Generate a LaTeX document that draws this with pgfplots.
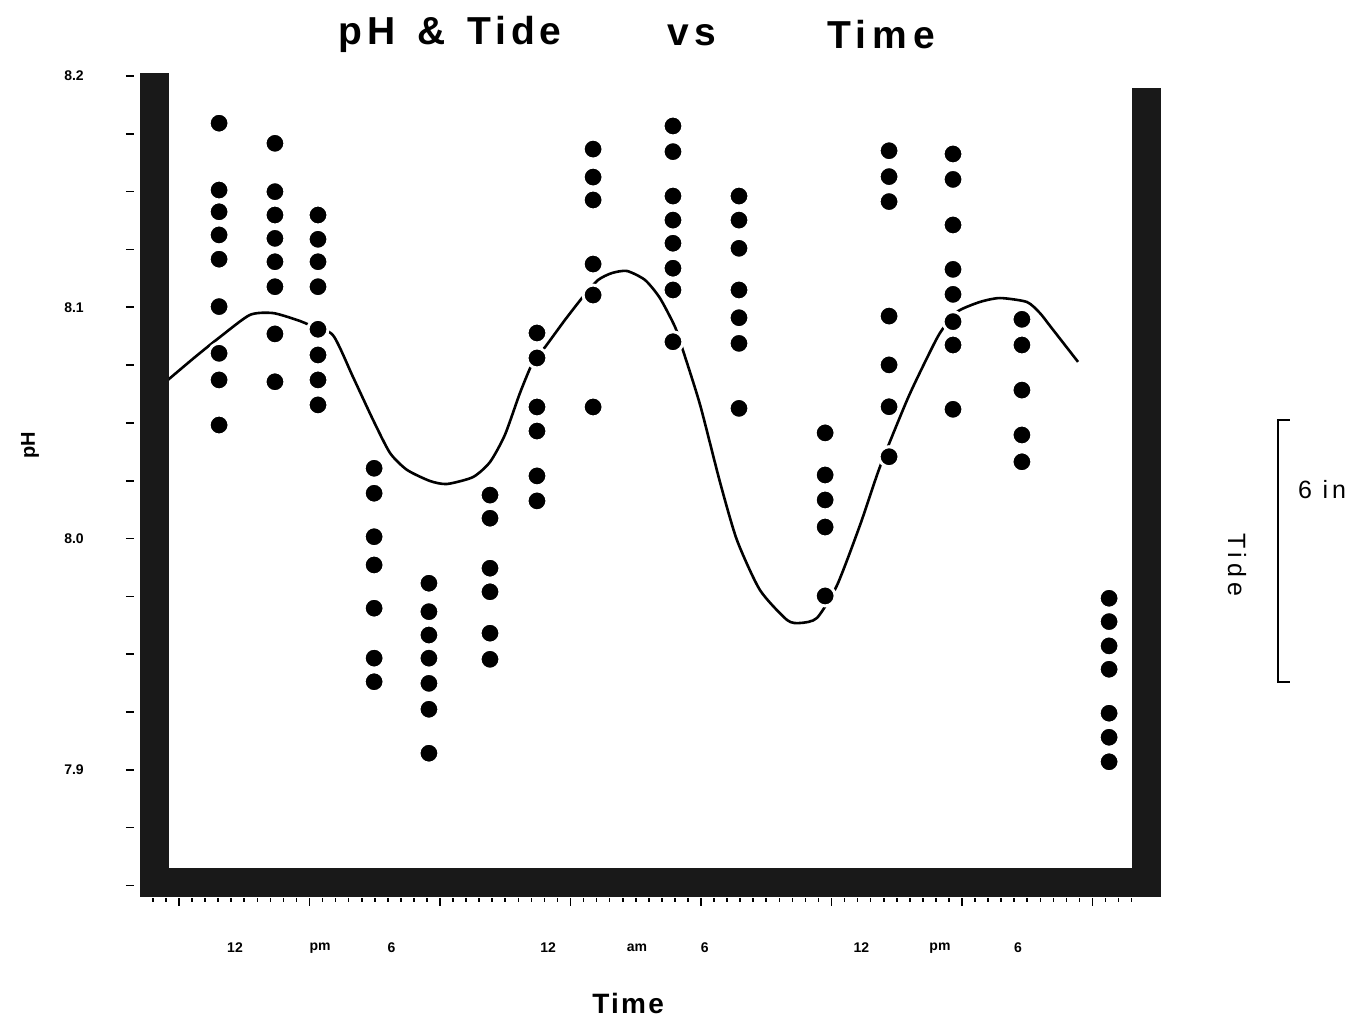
\documentclass[border=0pt]{standalone}
\usepackage{fontspec}
\setmainfont{Liberation Sans}
\usepackage{pgfplots}
\pgfplotsset{compat=1.18}
\usepackage{pgfplotstable}

\pgfplotstableread{
t ph
11.39 8.1796
11.39 8.1507
11.39 8.1413
11.39 8.1313
11.39 8.1208
11.39 8.1003
11.39 8.0801
11.39 8.0686
11.39 8.0491
13.53 8.1709
13.53 8.1500
13.53 8.1399
13.53 8.1298
13.53 8.1197
13.53 8.1089
13.53 8.0885
13.53 8.0678
15.18 8.1399
15.18 8.1294
15.18 8.1197
15.18 8.1089
15.18 8.0905
15.18 8.0794
15.18 8.0686
15.18 8.0578
17.33 8.0304
17.33 8.0196
17.33 8.0008
17.33 7.9886
17.33 7.9699
17.33 7.9483
17.33 7.9381
19.43 7.9807
19.43 7.9684
19.43 7.9583
19.43 7.9483
19.43 7.9374
19.43 7.9262
19.43 7.9072
21.77 8.0188
21.77 8.0088
21.77 7.9872
21.77 7.9770
21.77 7.9591
21.77 7.9478
23.57 8.0889
23.57 8.0781
23.57 8.0569
23.57 8.0465
23.57 8.0271
23.57 8.0163
25.72 8.1684
25.72 8.1563
25.72 8.1464
25.72 8.1187
25.72 8.1053
25.72 8.0569
28.78 8.1784
28.78 8.1673
28.78 8.1481
28.78 8.1377
28.78 8.1277
28.78 8.1169
28.78 8.1075
28.78 8.0851
31.31 8.1481
31.31 8.1377
31.31 8.1255
31.31 8.1075
31.31 8.0955
31.31 8.0844
31.31 8.0563
34.61 8.0457
34.61 8.0275
34.61 8.0167
34.61 8.0050
34.61 7.9752
37.06 8.1677
37.06 8.1565
37.06 8.1457
37.06 8.0962
37.06 8.0751
37.06 8.0570
37.06 8.0354
39.51 8.1663
39.51 8.1553
39.51 8.1356
39.51 8.1164
39.51 8.1056
39.51 8.0938
39.51 8.0837
39.51 8.0559
42.15 8.0948
42.15 8.0837
42.15 8.0642
42.15 8.0448
42.15 8.0332
45.49 7.9742
45.49 7.9641
45.49 7.9536
45.49 7.9435
45.49 7.9245
45.49 7.9141
45.49 7.9035
}\phdata

\pgfplotstableread{
t v
9.43 8.0686
10.47 8.0785
11.43 8.0872
12.57 8.0967
13.46 8.0975
14.38 8.0945
14.87 8.0923
15.75 8.0880
16.52 8.0699
17.29 8.0513
17.94 8.0370
18.59 8.0297
19.47 8.0249
20.12 8.0236
21.12 8.0266
21.77 8.0331
22.34 8.0448
22.92 8.0630
23.42 8.0764
23.88 8.0828
24.64 8.0945
25.33 8.1045
25.91 8.1118
26.44 8.1148
27.02 8.1157
27.71 8.1118
28.28 8.1040
28.86 8.0915
29.16 8.0815
29.82 8.0578
30.58 8.0245
31.23 7.9994
32.11 7.9778
33.15 7.9648
33.65 7.9635
34.30 7.9657
35.07 7.9799
35.95 8.0059
36.71 8.0310
37.75 8.0599
38.44 8.0764
39.01 8.0889
39.66 8.0980
40.54 8.1023
41.31 8.1040
42.34 8.1023
42.84 8.0975
43.23 8.0919
44.30 8.0764
}\tidedata

\begin{document}
\begin{tikzpicture}
\useasboundingbox (-67pt,-62pt) rectangle (613.5pt,449pt);
\begin{axis}[
  scale only axis, width=514pt, height=414pt,
  xmin=8.130, xmax=47.517, ymin=7.8446, ymax=8.2026,
  axis line style={draw=none},
  clip=false,
  tick align=outside,
  xtick pos=bottom, ytick pos=left,
  xtick={9.855,14.855,19.855,24.855,29.855,34.855,39.855,44.855},
  minor xtick={8.855,9.355,...,46.4},
  xticklabels={},
  ytick={7.85,7.875,7.9,7.925,7.95,7.975,8.0,8.025,8.05,8.075,8.1,8.125,8.15,8.175,8.2},
  yticklabels={,,7.9,,,,8.0,,,,8.1,,,,8.2},
  major tick length=4pt, minor tick length=2pt,
  tick style={black, line width=0.8pt},
  yticklabel style={font=\fontsize{7}{8}\selectfont\bfseries, anchor=center, xshift=-26pt},
  extra x ticks={12,15.26,18,24,27.4,30,36,39.01,42},
  extra x tick labels={12,pm,6,12,am,6,12,pm,6},
  extra x tick style={major tick length=0pt, tick style={draw=none},
    xticklabel style={font=\fontsize{7}{8}\selectfont\bfseries, anchor=center, yshift=-25pt}},
]
\addplot[black, line width=1.3pt, smooth, tension=0.4] table[x=t, y=v] {\tidedata};
\addplot[only marks, mark=*, mark size=5pt, mark options={fill=black, draw=white, line width=1.5pt}] table[x=t, y=ph] {\phdata};
% frame bars
\draw[black!90, line width=14.5pt, line join=miter, line cap=butt]
  (axis cs:8.897,8.2013) -- (axis cs:8.897,7.8515) -- (axis cs:46.904,7.8515) -- (axis cs:46.904,8.1948);
% titles and labels
\node[anchor=base, font=\fontsize{19.5}{20}\selectfont\bfseries\addfontfeature{LetterSpace=12}] at (axis cs:20.24,8.2138) {pH \,\&\, Tide};
\node[anchor=base, font=\fontsize{19.5}{20}\selectfont\bfseries\addfontfeature{LetterSpace=12}] at (axis cs:29.51,8.2134) {vs};
\node[anchor=base, font=\fontsize{19.5}{20}\selectfont\bfseries\addfontfeature{LetterSpace=15}] at (axis cs:36.75,8.2121) {Time};
\node[anchor=base, font=\fontsize{14}{15}\selectfont\bfseries\addfontfeature{LetterSpace=8}] at (axis cs:27.06,7.7945) {Time};
\node[rotate=90, font=\fontsize{10}{11}\selectfont\bfseries] at (axis cs:4.146,8.0405) {pH};
\node[rotate=-90, font=\fontsize{12.5}{13}\selectfont\addfontfeature{LetterSpace=20}] at (axis cs:50.39,7.9886) {Tide};
\node[font=\fontsize{12.5}{13}\selectfont\addfontfeature{LetterSpace=15}] at (axis cs:53.65,8.0214) {6 in};
\draw[black, line width=1pt] (axis cs:52.42,8.0513) -- (axis cs:51.96,8.0513) -- (axis cs:51.96,7.9380) -- (axis cs:52.42,7.9380);
\end{axis}
\end{tikzpicture}
\end{document}
